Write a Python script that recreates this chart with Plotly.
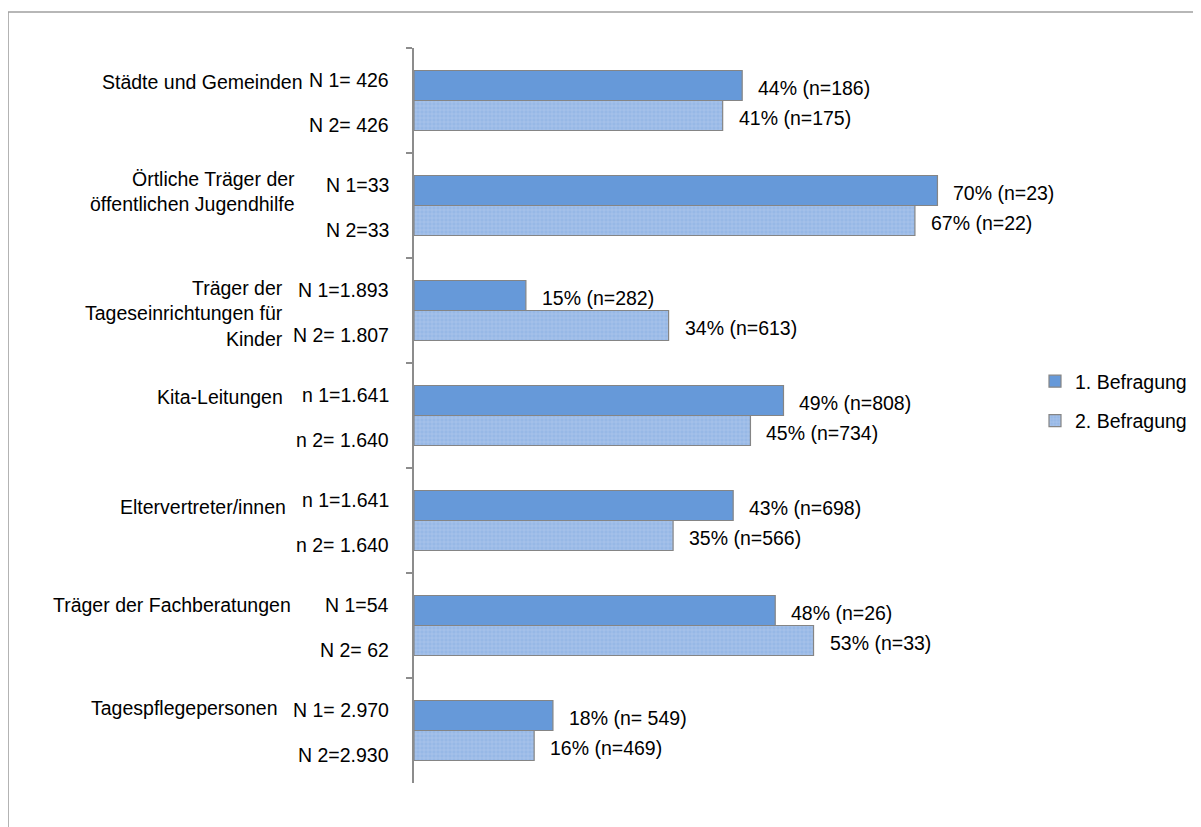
import plotly.graph_objects as go

# ---------------- data ----------------
categories = [
    "Städte und Gemeinden",
    "Örtliche Träger der<br>öffentlichen Jugendhilfe",
    "Träger der<br>Tageseinrichtungen für<br>Kinder",
    "Kita-Leitungen",
    "Eltervertreter/innen",
    "Träger der Fachberatungen",
    "Tagespflegepersonen",
]
series_names = ["1. Befragung", "2. Befragung"]
pct_1 = [43.7, 69.7, 14.9, 49.2, 42.5, 48.1, 18.5]
pct_2 = [41.1, 66.7, 33.9, 44.8, 34.5, 53.2, 16.0]
value_labels_1 = ["44% (n=186)", "70% (n=23)", "15% (n=282)", "49% (n=808)",
                  "43% (n=698)", "48% (n=26)", "18% (n= 549)"]
value_labels_2 = ["41% (n=175)", "67% (n=22)", "34% (n=613)", "45% (n=734)",
                  "35% (n=566)", "53% (n=33)", "16% (n=469)"]
base_labels_1 = ["N 1= 426", "N 1=33", "N 1=1.893", "n 1=1.641",
                 "n 1=1.641", "N 1=54", "N 1= 2.970"]
base_labels_2 = ["N 2= 426", "N 2=33", "N 2= 1.807", "n 2= 1.640",
                 "n 2= 1.640", "N 2= 62", "N 2=2.930"]

# ---------------- layout / style ----------------
OFF = 8                      # browser body margin; figure starts at (8, 8)
W, H = 1201 - OFF, 827 - OFF
ML, MT = 414 - OFF, 48 - OFF
MR = W - (1165 - OFF)
MB = H - (783 - OFF)
PW, PH = W - ML - MR, H - MT - MB
FONT = "Arial, 'Liberation Sans', sans-serif"
FS = 19.5
TXT = "#000000"
C1 = "#6699D9"
C2 = "#97B8E6"
EDGE = "#858585"

# label placement (reference-window pixels)
cat_label_right = [305, 297, 285, 285, 288, 293, 279]
cat_label_dy = [18.5, 14, -2.5, 18.5, 13.5, 20.5, 22.5]
base_label_right = 391
base_dy_1, base_dy_2 = 21, -24
val_dy_1, val_dy_2 = 13, -17
val_dx = 14

fig = go.Figure()
fig.add_trace(go.Bar(
    y=categories, x=pct_1, orientation="h", name=series_names[0],
    marker=dict(color=C1, line=dict(color=EDGE, width=1.2)),
    hoverinfo="skip", legendgroup="a",
))
fig.add_trace(go.Bar(
    y=categories, x=pct_2, orientation="h", name=series_names[1],
    marker=dict(color=C2, line=dict(color=EDGE, width=1.2),
                pattern=dict(shape="+", fgcolor="#C3D7F2", size=4, solidity=0.3)),
    hoverinfo="skip", legendgroup="b",
))

ann = []
for i, cat in enumerate(categories):
    ann.append(dict(
        xref="paper", x=0, xanchor="right", xshift=cat_label_right[i] - 414,
        yref="y", y=cat, yanchor="middle", yshift=cat_label_dy[i],
        text=cat, showarrow=False, align="right",
        font=dict(family=FONT, size=FS, color=TXT)))
    ann.append(dict(
        xref="paper", x=0, xanchor="right", xshift=base_label_right - 414,
        yref="y", y=cat, yanchor="middle", yshift=base_dy_1,
        text=base_labels_1[i], showarrow=False,
        font=dict(family=FONT, size=FS, color=TXT)))
    ann.append(dict(
        xref="paper", x=0, xanchor="right", xshift=base_label_right - 414,
        yref="y", y=cat, yanchor="middle", yshift=base_dy_2,
        text=base_labels_2[i], showarrow=False,
        font=dict(family=FONT, size=FS, color=TXT)))
    ann.append(dict(
        xref="x", x=pct_1[i], xanchor="left", xshift=val_dx,
        yref="y", y=cat, yanchor="middle", yshift=val_dy_1,
        text=value_labels_1[i], showarrow=False,
        font=dict(family=FONT, size=FS, color=TXT)))
    ann.append(dict(
        xref="x", x=pct_2[i], xanchor="left", xshift=val_dx,
        yref="y", y=cat, yanchor="middle", yshift=val_dy_2,
        text=value_labels_2[i], showarrow=False,
        font=dict(family=FONT, size=FS, color=TXT)))


def px_to_paper_x(px):
    """reference-window x pixel -> paper coordinate"""
    return (px - OFF - ML) / PW


def px_to_paper_y(py):
    """reference-window y pixel -> paper coordinate"""
    return (H - MB - (py - OFF)) / PH


shapes = [dict(
    type="rect", xref="paper", yref="paper",
    x0=px_to_paper_x(8), x1=px_to_paper_x(1230),
    y0=px_to_paper_y(850), y1=px_to_paper_y(12),
    line=dict(color="#A0A0A0", width=1.6), fillcolor="rgba(0,0,0,0)",
)]

fig.update_layout(
    width=W, height=H,
    margin=dict(l=ML, r=MR, t=MT, b=MB, pad=0, autoexpand=False),
    paper_bgcolor="white", plot_bgcolor="white",
    barmode="group", bargap=45 / 105, bargroupgap=0,
    font=dict(family=FONT, size=FS, color=TXT),
    xaxis=dict(visible=False, range=[0, 100], fixedrange=True),
    yaxis=dict(
        type="category", autorange=False, range=[len(categories) - 0.5, -0.5],
        showticklabels=False, showgrid=False, zeroline=False,
        showline=True, linecolor="#8C8C8C", linewidth=1.5,
        ticks="outside", tickson="boundaries", ticklen=6,
        tickcolor="#8C8C8C", tickwidth=1.5, fixedrange=True,
    ),
    legend=dict(
        x=px_to_paper_x(1035), xanchor="left",
        y=px_to_paper_y(362), yanchor="top",
        traceorder="grouped", tracegroupgap=11,
        font=dict(family=FONT, size=FS, color=TXT),
        bgcolor="rgba(0,0,0,0)", borderwidth=0,
    ),
    showlegend=True,
    annotations=ann,
    shapes=shapes,
)

fig.write_html("out.html")
